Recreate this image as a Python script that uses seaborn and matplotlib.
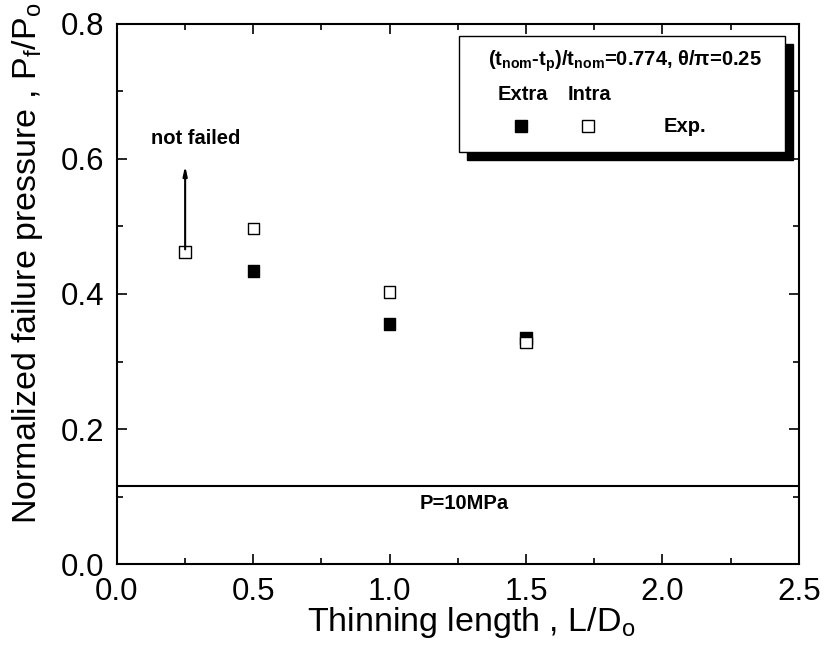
import numpy as np
import pandas as pd
import matplotlib
matplotlib.use('Agg')
import matplotlib.pyplot as plt
from matplotlib.patches import Rectangle
from matplotlib.ticker import MultipleLocator
import seaborn as sns

# 데이터
extra_x = [0.5, 1.0, 1.5]
extra_y = [0.434, 0.356, 0.335]
intra_x = [0.25, 0.5, 1.0, 1.5]
intra_y = [0.462, 0.497, 0.403, 0.328]
p_line = 0.115          # P=10MPa 기준선
not_failed_x = 0.25
not_failed_top = 0.594

sns.set_theme(style='ticks')
plt.rcParams['font.family'] = ['Liberation Sans', 'DejaVu Sans']
plt.rcParams['text.color'] = 'black'
plt.rcParams['axes.labelcolor'] = 'black'
plt.rcParams['mathtext.fontset'] = 'custom'
plt.rcParams['mathtext.rm'] = 'Liberation Sans'
plt.rcParams['mathtext.it'] = 'Liberation Sans:italic'
plt.rcParams['mathtext.bf'] = 'Liberation Sans:bold'

df = pd.concat([
    pd.DataFrame({'L': extra_x, 'P': extra_y, 'kind': 'Extra'}),
    pd.DataFrame({'L': intra_x, 'P': intra_y, 'kind': 'Intra'}),
], ignore_index=True)

fig, ax = plt.subplots(figsize=(8.26, 6.55), dpi=100)
fig.subplots_adjust(left=0.1416, right=0.967, bottom=0.1389, top=0.9634)

sns.scatterplot(data=df, x='L', y='P', hue='kind', style='kind',
                markers={'Extra': 's', 'Intra': 's'},
                palette={'Extra': 'black', 'Intra': 'white'},
                edgecolor='black', linewidth=1.0, s=70, legend=False,
                ax=ax, zorder=3)

ax.axhline(p_line, color='black', lw=1.5)
ax.text(1.275, p_line - 0.012, 'P=10MPa', ha='center', va='top',
        fontsize=14.5, fontweight='bold')

ax.annotate('', xy=(not_failed_x, not_failed_top),
            xytext=(not_failed_x, intra_y[0]),
            arrowprops=dict(arrowstyle='-|>,head_length=0.45,head_width=0.1',
                            color='black', lw=1.5))
ax.text(0.29, 0.631, 'not failed', ha='center', va='center',
        fontsize=14.5, fontweight='bold')

# 범례 박스
bx, by, bw, bh = 0.5015, 0.7635, 0.478, 0.2145
ax.add_patch(Rectangle((bx + 0.0117, by - 0.0148), bw, bh, transform=ax.transAxes,
                       facecolor='black', edgecolor='black', zorder=4, clip_on=False))
ax.add_patch(Rectangle((bx, by), bw, bh, transform=ax.transAxes,
                       facecolor='white', edgecolor='black', lw=1.0, zorder=5, clip_on=False))
ax.text(0.745, 0.9315,
        r'(t$_\mathbf{nom}$-t$_\mathbf{p}$)/t$_\mathbf{nom}$=0.774, θ/π=0.25',
        transform=ax.transAxes, ha='center', va='center',
        fontsize=14.5, fontweight='bold', zorder=6)
ax.text(0.595, 0.8685, 'Extra', transform=ax.transAxes, ha='center', va='center',
        fontsize=14.5, fontweight='bold', zorder=6)
ax.text(0.6935, 0.8685, 'Intra', transform=ax.transAxes, ha='center', va='center',
        fontsize=14.5, fontweight='bold', zorder=6)
ax.plot([0.592], [0.811], 's', color='black', mec='black', ms=8.5,
        transform=ax.transAxes, zorder=6)
ax.plot([0.6906], [0.811], 's', color='white', mec='black', mew=1.0, ms=8.5,
        transform=ax.transAxes, zorder=6)
ax.text(0.833, 0.811, 'Exp.', transform=ax.transAxes, ha='center', va='center',
        fontsize=14.5, fontweight='bold', zorder=6)

ax.set_xlim(0, 2.5)
ax.set_ylim(0, 0.8)
ax.xaxis.set_major_locator(MultipleLocator(0.5))
ax.xaxis.set_minor_locator(MultipleLocator(0.25))
ax.yaxis.set_major_locator(MultipleLocator(0.2))
ax.yaxis.set_minor_locator(MultipleLocator(0.1))
ax.xaxis.set_major_formatter(plt.FormatStrFormatter('%.1f'))
ax.yaxis.set_major_formatter(plt.FormatStrFormatter('%.1f'))
ax.tick_params(which='both', direction='in', top=True, right=True,
               color='black', width=1.2)
ax.tick_params(which='major', length=7, labelsize=22.5, pad=9, labelcolor='black')
ax.tick_params(which='minor', length=4)
for sp in ax.spines.values():
    sp.set_visible(True)
    sp.set_color('black')
    sp.set_linewidth(1.5)

ax.set_xlabel('Thinning length , L/D$_\\mathregular{o}$', fontsize=24.5, color='black')
ax.set_ylabel('Normalized failure pressure , P$_\\mathregular{f}$/P$_\\mathregular{o}$',
              fontsize=24.5, color='black')
ax.xaxis.set_label_coords(0.52, -0.076)
ax.yaxis.set_label_coords(-0.106, 0.557)

fig.savefig('out.png', dpi=100)
